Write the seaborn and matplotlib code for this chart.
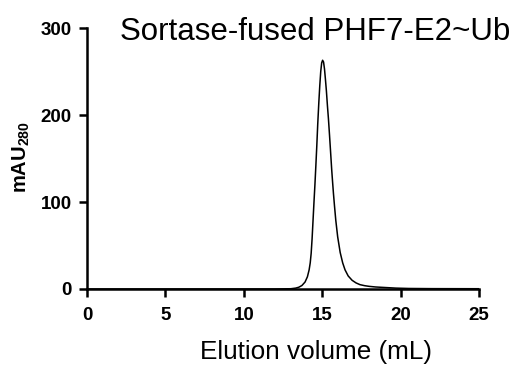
import matplotlib
matplotlib.use('Agg')
import matplotlib.pyplot as plt
import seaborn as sns
import pandas as pd

# elution profile
volume = [0, 6, 12, 13.0, 13.3, 13.5, 13.7, 13.9, 14.05, 14.16, 14.23, 14.29,
          14.35, 14.41, 14.47, 14.53, 14.59, 14.65, 14.71, 14.78, 14.84, 14.9,
          14.96, 15.02, 15.08, 15.14, 15.2, 15.26, 15.33, 15.39, 15.46, 15.52,
          15.6, 15.66, 15.71, 15.78, 15.86, 15.98, 16.14, 16.3, 16.45, 16.65,
          16.9, 17.15, 17.4, 17.7, 18.0, 18.4, 18.9, 19.7, 20.5, 22, 25]
mau = [0, 0, 0, 0.3, 1, 2, 4, 8, 14, 22, 30, 41,
       58, 79, 100, 120, 142, 165, 190, 215, 234, 250,
       260, 263, 261, 253, 241, 228, 210, 196, 177, 160,
       137, 122, 110, 95, 79, 60, 42, 30, 22, 15,
       10, 7, 5, 3.8, 3, 2.3, 1.8, 1, 0.6, 0.4, 0.3]

x_ticks = [0, 5, 10, 15, 20, 25]
y_ticks = [0, 100, 200, 300]

df = pd.DataFrame({'volume': volume, 'mau': mau})

sns.set_style('ticks')
plt.rcParams['font.family'] = ['Liberation Sans', 'DejaVu Sans']
plt.rcParams['mathtext.fontset'] = 'custom'
plt.rcParams['mathtext.rm'] = 'Liberation Sans'
plt.rcParams['mathtext.bf'] = 'Liberation Sans:bold'
for k in ['text.color', 'axes.labelcolor', 'xtick.color', 'ytick.color']:
    plt.rcParams[k] = 'black'

fig = plt.figure(figsize=(5.18, 3.68), dpi=100)
ax = fig.add_axes([0.168, 0.2147, 0.757, 0.709])

sns.lineplot(data=df, x='volume', y='mau', color='black', linewidth=1.1, ax=ax)

ax.set_xlim(0, 25)
ax.set_ylim(0, 300)
ax.set_xticks(x_ticks)
ax.set_yticks(y_ticks)
sns.despine(ax=ax)
for s in ['left', 'bottom']:
    ax.spines[s].set_linewidth(1.8)
    ax.spines[s].set_color('black')
ax.tick_params(axis='both', length=6, width=1.8, color='black', labelsize=13.5, pad=5)
ax.tick_params(axis='x', pad=7)
for lab in ax.get_xticklabels() + ax.get_yticklabels():
    lab.set_fontweight('bold')

ax.set_xlabel('Elution volume (mL)', fontsize=18.8)
ax.xaxis.set_label_coords(0.584, -0.195)
ax.set_ylabel(r'$\mathbf{mAU}_{\mathbf{280}}$', fontsize=14.5)
ax.yaxis.set_label_coords(-0.14, 0.505)

fig.text(0.232, 0.955, 'Sortase-fused PHF7-E2~Ub', fontsize=22.5, ha='left', va='top')

fig.savefig('out.png', dpi=100)
